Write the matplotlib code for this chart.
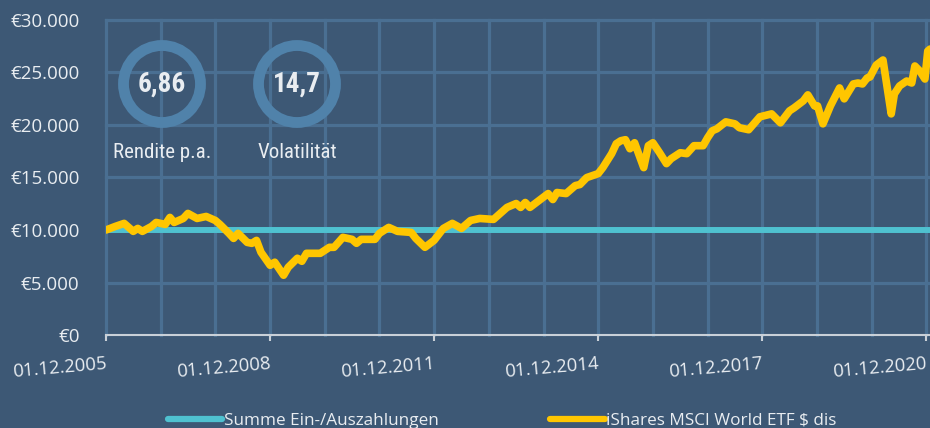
import matplotlib
matplotlib.use("Agg")
import matplotlib.pyplot as plt
from matplotlib.lines import Line2D
from matplotlib.patches import Circle
from matplotlib import font_manager as fm
import pandas as pd

# ---------------- data ----------------
dates = [
    "2005-12-01", "2006-02-01", "2006-04-01", "2006-06-01", "2006-07-01", "2006-08-01",
    "2006-10-01", "2006-11-01", "2007-01-01", "2007-02-01", "2007-03-01", "2007-05-01",
    "2007-06-01", "2007-08-01", "2007-10-01", "2007-12-01", "2008-01-01", "2008-03-01",
    "2008-04-01", "2008-05-01", "2008-07-01", "2008-08-01", "2008-09-01", "2008-10-01",
    "2008-12-01", "2009-01-01", "2009-03-01", "2009-04-01", "2009-06-01", "2009-07-01",
    "2009-08-01", "2009-11-01", "2010-01-01", "2010-02-01", "2010-04-01", "2010-06-01",
    "2010-07-01", "2010-08-01", "2010-11-01", "2010-12-01", "2011-02-01", "2011-04-01",
    "2011-07-01", "2011-08-01", "2011-10-01", "2011-12-01", "2012-02-01", "2012-04-01",
    "2012-06-01", "2012-08-01", "2012-10-01", "2013-01-01", "2013-04-01", "2013-06-01",
    "2013-07-01", "2013-08-01", "2013-09-01", "2013-11-01", "2014-01-01", "2014-02-01",
    "2014-03-01", "2014-05-01", "2014-07-01", "2014-08-01", "2014-09-15", "2014-12-01",
    "2015-01-01", "2015-03-01", "2015-04-01", "2015-05-01", "2015-06-01", "2015-07-01",
    "2015-08-01", "2015-10-01", "2015-11-01", "2015-12-01", "2016-01-15", "2016-03-01",
    "2016-04-01", "2016-06-01", "2016-07-15", "2016-09-01", "2016-11-01", "2016-12-01",
    "2017-01-01", "2017-02-01", "2017-04-01", "2017-06-01", "2017-07-01", "2017-09-01",
    "2017-11-15", "2018-02-01", "2018-04-01", "2018-06-01", "2018-07-01", "2018-09-01",
    "2018-10-01", "2018-11-15", "2018-12-05", "2019-01-10", "2019-03-01", "2019-05-01",
    "2019-06-01", "2019-08-01", "2019-09-01", "2019-10-01", "2019-11-01", "2019-11-20",
    "2020-01-01", "2020-02-15", "2020-04-10", "2020-05-01", "2020-06-05", "2020-07-22",
    "2020-08-25", "2020-09-15", "2020-10-18", "2020-11-21", "2020-12-10", "2020-12-25",
]
etf_values = [
    10000, 10340, 10630, 9870, 10150, 9870,
    10340, 10720, 10530, 11200, 10720, 11100,
    11580, 11100, 11290, 10910, 10530, 9680,
    9200, 9680, 8820, 8730, 9010, 7880,
    6640, 6930, 5690, 6450, 7310, 7020,
    7780, 7780, 8350, 8350, 9300, 9110,
    8730, 9110, 9110, 9680, 10250, 9870,
    9770, 9200, 8350, 9010, 10150, 10630,
    10150, 10910, 11100, 11010, 12150, 12520,
    12150, 12620, 12150, 12810, 13470, 12900,
    13570, 13470, 14230, 14330, 14990, 15370,
    15940, 17270, 18220, 18500, 18600, 17740,
    18310, 15940, 18030, 18310, 17360, 16320,
    16790, 17360, 17270, 18030, 18030, 18790,
    19450, 19640, 20300, 20110, 19740, 19550,
    20780, 21060, 20210, 21350, 21630, 22300,
    22870, 21820, 21820, 20110, 21820, 23530,
    22490, 23910, 24000, 23910, 24480, 24570,
    25710, 26190, 21060, 22960, 23720, 24190,
    24000, 25620, 25140, 24380, 27040, 27230,
]
payments_dates = ["2005-12-01", "2020-12-25"]
payments_values = [10000, 10000]

series_names = ["Summe Ein-/Auszahlungen", "iShares MSCI World ETF $ dis"]
y_ticks = [0, 5000, 10000, 15000, 20000, 25000, 30000]
y_labels = ["€0", "€5.000", "€10.000", "€15.000", "€20.000", "€25.000", "€30.000"]
x_tick_dates = ["2005-12-01", "2008-12-01", "2011-12-01", "2014-12-01", "2017-12-01", "2020-12-01"]
x_tick_labels = ["01.12.2005", "01.12.2008", "01.12.2011", "01.12.2014", "01.12.2017", "01.12.2020"]
grid_dates = [f"{y}-12-01" for y in range(2005, 2021)]
kpi_values = ["6,86", "14,7"]
kpi_labels = ["Rendite p.a.", "Volatilität"]

# ---------------- style ----------------
BG = "#3d5875"
GRID = "#4a6f92"
CYAN = "#4fc1d0"
YELLOW = "#ffc600"
RING = "#5082aa"
TXT = "#e9edf1"
AXIS = "#c9d0d8"

plt.rcParams["font.family"] = ["Open Sans", "DejaVu Sans"]

# condensed font for KPI badges
installed = {f.name for f in fm.fontManager.ttflist}
cond_fams = [f for f in ["Roboto Condensed", "Liberation Sans Narrow", "DejaVu Sans"]
             if f in installed]
kpi_font = dict(family=cond_fams, fontstretch="condensed")

fig = plt.figure(figsize=(9.30, 4.28), dpi=100, facecolor=BG)
ax = fig.add_axes([106 / 930, 93 / 428, 824 / 930, 315 / 428])
ax.set_facecolor(BG)

d_etf = pd.to_datetime(dates)
d_pay = pd.to_datetime(payments_dates)

ax.plot(d_pay, payments_values, color=CYAN, lw=4.3, solid_capstyle="butt", zorder=3)
ax.plot(d_etf, etf_values, color=YELLOW, lw=5.5, solid_joinstyle="round",
        solid_capstyle="round", zorder=4)

ax.set_xlim(pd.Timestamp("2005-12-01"), pd.Timestamp("2020-12-25"))
ax.set_ylim(0, 30000)

# grid
for gd in pd.to_datetime(grid_dates):
    ax.axvline(gd, color=GRID, lw=2.3, zorder=1, clip_on=False)
for yt in y_ticks[1:]:
    ax.axhline(yt, color=GRID, lw=2.3, zorder=1, clip_on=False)

for s in ["left", "right", "top"]:
    ax.spines[s].set_visible(False)
ax.spines["bottom"].set_color(AXIS)
ax.spines["bottom"].set_linewidth(1.5)
ax.spines["bottom"].set_zorder(5)

ax.set_yticks(y_ticks)
ax.set_yticklabels(y_labels)
ax.tick_params(axis="y", length=0, pad=19, labelsize=13.5, labelcolor=TXT)

ax.set_xticks(pd.to_datetime(x_tick_dates))
ax.set_xticklabels(x_tick_labels, rotation=5, ha="right", va="top",
                   rotation_mode="anchor")
ax.tick_params(axis="x", length=4, width=1.5, color=AXIS, pad=10,
               labelsize=13.3, labelcolor=TXT)

# KPI rings
centers_x = [162, 297]
for cx, val, lab in zip(centers_x, kpi_values, kpi_labels):
    fx, fy = cx / 930, 1 - 84 / 428
    ring = Circle((cx, 428 - 84), 38.5, transform=None, fill=False,
                  edgecolor=RING, lw=7.8, zorder=6)
    fig.patches.append(ring)
    fig.text(fx, fy, val, ha="center", va="center", color=TXT, fontsize=19.5,
             fontweight="bold", zorder=7, **kpi_font)
    fig.text(fx, 1 - 152 / 428, lab, ha="center", va="center", color=TXT,
             fontsize=15, fontweight="normal", zorder=7, **kpi_font)

# legend
handles = [
    Line2D([], [], color=CYAN, lw=4.5, solid_capstyle="round"),
    Line2D([], [], color=YELLOW, lw=4.5, solid_capstyle="round"),
]
leg = fig.legend(handles, series_names, loc="center", bbox_to_anchor=(0.54, 7 / 428),
                 ncol=2, frameon=False, fontsize=12.3, handlelength=3.2,
                 handletextpad=0.1, columnspacing=6.5, labelcolor=TXT)

fig.savefig("out.png", dpi=100, facecolor=BG)
